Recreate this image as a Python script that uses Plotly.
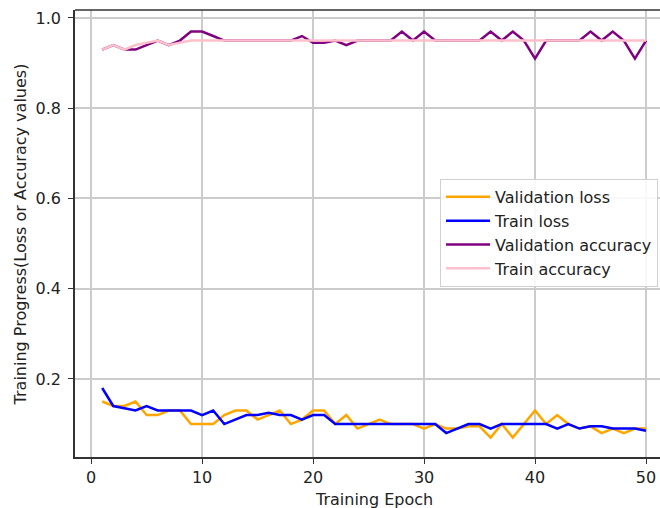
import plotly.graph_objects as go

epochs = list(range(1, 51))

val_loss = [0.15, 0.14, 0.14, 0.15, 0.12, 0.12, 0.13, 0.13, 0.10, 0.10,
            0.10, 0.12, 0.13, 0.13, 0.11, 0.12, 0.13, 0.10, 0.11, 0.13,
            0.13, 0.10, 0.12, 0.09, 0.10, 0.11, 0.10, 0.10, 0.10, 0.09,
            0.10, 0.09, 0.09, 0.095, 0.095, 0.07, 0.10, 0.07, 0.10, 0.13,
            0.10, 0.12, 0.10, 0.09, 0.095, 0.08, 0.09, 0.08, 0.09, 0.09]

train_loss = [0.18, 0.14, 0.135, 0.13, 0.14, 0.13, 0.13, 0.13, 0.13, 0.12,
              0.13, 0.10, 0.11, 0.12, 0.12, 0.125, 0.12, 0.12, 0.11, 0.12,
              0.12, 0.10, 0.10, 0.10, 0.10, 0.10, 0.10, 0.10, 0.10, 0.10,
              0.10, 0.08, 0.09, 0.10, 0.10, 0.09, 0.10, 0.10, 0.10, 0.10,
              0.10, 0.09, 0.10, 0.09, 0.095, 0.095, 0.09, 0.09, 0.09, 0.085]

val_acc = [0.93, 0.94, 0.93, 0.93, 0.94, 0.95, 0.94, 0.95, 0.97, 0.97,
           0.96, 0.95, 0.95, 0.95, 0.95, 0.95, 0.95, 0.95, 0.96, 0.945,
           0.945, 0.95, 0.94, 0.95, 0.95, 0.95, 0.95, 0.97, 0.95, 0.97,
           0.95, 0.95, 0.95, 0.95, 0.95, 0.97, 0.95, 0.97, 0.95, 0.91,
           0.95, 0.95, 0.95, 0.95, 0.97, 0.95, 0.97, 0.95, 0.91, 0.95]

train_acc = [0.93, 0.94, 0.93, 0.94, 0.945, 0.95, 0.94, 0.945, 0.95, 0.95] + [0.95] * 40

x_ticks = [0, 10, 20, 30, 40, 50]
y_ticks = [0.2, 0.4, 0.6, 0.8, 1.0]
y_tick_labels = ["0.2", "0.4", "0.6", "0.8", "1.0"]

x_title = "Training Epoch"
y_title = "Training Progress(Loss or Accuracy values)"

series = [
    ("Validation loss", val_loss, "orange"),
    ("Train loss", train_loss, "blue"),
    ("Validation accuracy", val_acc, "purple"),
    ("Train accuracy", train_acc, "pink"),
]

fig = go.Figure()
for name, vals, color in series:
    fig.add_trace(go.Scatter(x=epochs, y=vals, mode="lines", name=name,
                             line=dict(color=color, width=2.5)))

font = dict(family="DejaVu Sans", size=16, color="#222222")

fig.update_layout(
    width=660, height=508,
    margin=dict(l=75, r=0, t=10, b=51),
    paper_bgcolor="white", plot_bgcolor="white",
    font=font,
    showlegend=True,
    legend=dict(x=0.624, y=0.622, xanchor="left", yanchor="top",
                bgcolor="rgba(255,255,255,0.85)", bordercolor="#d0d0d0", borderwidth=1,
                font=font, itemwidth=44, tracegroupgap=0),
    xaxis=dict(range=[-1.45, 51.26], tickvals=x_ticks, showgrid=True, automargin=False,
               gridcolor="#cccccc", gridwidth=1.5, showline=True, linecolor="#333333",
               linewidth=1.5, mirror=False, ticks="outside", ticklen=5, tickcolor="#333333",
               zeroline=False),
    yaxis=dict(range=[0.027, 1.0177], tickvals=y_ticks, ticktext=y_tick_labels,
               automargin=False, ticklabelstandoff=4,
               showgrid=True, gridcolor="#cccccc", gridwidth=1.5, showline=True,
               linecolor="#333333", linewidth=1.5, ticks="outside", ticklen=5,
               tickcolor="#333333", zeroline=False),
    shapes=[dict(type="line", xref="paper", yref="paper", x0=0, x1=1, y0=1, y1=1,
                 line=dict(color="#333333", width=1.5))],
    annotations=[
        dict(text=x_title, xref="paper", yref="paper", x=0.511, y=-0.096,
             xanchor="center", yanchor="middle", showarrow=False, font=font),
        dict(text=y_title, xref="paper", yref="paper", x=-0.094, y=0.498,
             xanchor="center", yanchor="middle", showarrow=False, font=font,
             textangle=-90),
    ],
)

fig.write_html("out.html",
               config={"displayModeBar": False},
               post_script="document.body.style.margin='0px';document.body.style.overflow='hidden';")
